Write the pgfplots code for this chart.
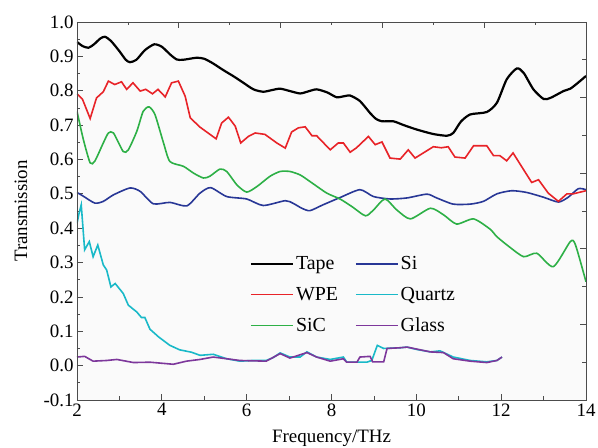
\documentclass[border=0pt]{standalone}
\usepackage{pgfplots}
\pgfplotsset{compat=1.18}
\usepackage{fontspec}
\setmainfont{Liberation Serif}
\definecolor{cTape}{RGB}{0,0,0}
\definecolor{cWPE}{RGB}{232,35,40}
\definecolor{cSiC}{RGB}{45,176,70}
\definecolor{cSi}{RGB}{40,55,150}
\definecolor{cQuartz}{RGB}{25,185,200}
\definecolor{cGlass}{RGB}{125,55,155}
\begin{document}
\begin{tikzpicture}
\begin{axis}[
  name=ax,
  scale only axis, width=509bp, height=378bp,
  xmin=2, xmax=14, ymin=-0.1, ymax=1.0,
  xtick={2,4,6,8,10,12,14}, minor x tick num=1,
  ytick={-0.1,0,0.1,0.2,0.3,0.4,0.5,0.6,0.7,0.8,0.9,1.0}, minor y tick num=1,
  yticklabels={-0.1,0.0,0.1,0.2,0.3,0.4,0.5,0.6,0.7,0.8,0.9,1.0},
  xticklabels={2,4,6,8,10,12,14},
  xtick pos=bottom, ytick pos=left,
  tick align=inside,
  major tick length=6bp, minor tick length=3.5bp,
  every tick/.style={black!70, line width=0.8bp},
  axis line style={black!70, line width=0.9bp},
  axis background/.style={fill=black!2},
  tick label style={font=\fontsize{19}{22}\selectfont},
  label style={font=\fontsize{19}{22}\selectfont},
  xlabel={Frequency/THz},
  ylabel={Transmission},
  xlabel style={at={(axis description cs:0.5,0)}, anchor=base, yshift=-42bp},
  ylabel style={at={(axis description cs:-0.110,0.5)}, anchor=center},
  legend columns=2,
  legend style={at={(axis cs:6.0,0.33)}, anchor=north west, draw=none, fill=none,
    font=\fontsize{20}{23}\selectfont, row sep=12bp,
    /tikz/every even column/.append style={column sep=15bp}},
  legend cell align=left,
  legend image code/.code={\draw[#1] (0bp,0bp) -- (42bp,0bp);},
]
\addplot[cTape, line width=2.2bp, smooth, tension=0.4] coordinates {
(2.0,0.942) (2.13,0.93) (2.27,0.925) (2.4,0.935) (2.55,0.952) (2.66,0.957) (2.8,0.945) (3.0,0.915) (3.15,0.89) (3.25,0.883) (3.4,0.89) (3.6,0.918) (3.82,0.935) (4.0,0.928) (4.2,0.905) (4.35,0.891) (4.5,0.89) (4.82,0.896) (5.0,0.893) (5.2,0.88) (5.45,0.86) (5.69,0.842) (5.9,0.825) (6.16,0.804) (6.39,0.797) (6.6,0.802) (6.79,0.806) (7.02,0.799) (7.26,0.792) (7.45,0.798) (7.65,0.804) (7.9,0.795) (8.12,0.781) (8.3,0.784) (8.44,0.786) (8.67,0.77) (8.91,0.735) (9.05,0.718) (9.19,0.711) (9.46,0.711) (9.7,0.7) (10.01,0.687) (10.4,0.674) (10.72,0.669) (10.87,0.677) (11.05,0.71) (11.27,0.731) (11.66,0.738) (11.9,0.765) (12.13,0.833) (12.37,0.865) (12.53,0.852) (12.76,0.804) (13.0,0.776) (13.16,0.779) (13.47,0.799) (13.63,0.806) (13.8,0.822) (14.0,0.843)
};
\addlegendentry{Tape}
\addplot[cSi, line width=1.6bp, smooth, tension=0.4] coordinates {
(2.0,0.504) (2.15,0.493) (2.42,0.473) (2.62,0.478) (2.86,0.497) (3.25,0.517) (3.49,0.507) (3.8,0.471) (4.19,0.475) (4.59,0.465) (4.9,0.502) (5.15,0.518) (5.53,0.492) (6.0,0.485) (6.39,0.466) (6.91,0.48) (7.1,0.472) (7.3,0.458) (7.49,0.451) (7.8,0.468) (8.2,0.489) (8.67,0.512) (8.99,0.492) (9.38,0.485) (9.78,0.488) (10.25,0.499) (10.48,0.488) (10.87,0.47) (11.27,0.47) (11.58,0.478) (11.9,0.5) (12.25,0.509) (12.6,0.504) (13.0,0.49) (13.35,0.476) (13.58,0.49) (13.82,0.515) (14.0,0.512)
};
\addlegendentry{Si}
\addplot[cWPE, line width=1.6bp] coordinates {
(2.0,0.791) (2.13,0.775) (2.31,0.719) (2.46,0.779) (2.62,0.797) (2.74,0.828) (2.89,0.818) (3.05,0.826) (3.17,0.804) (3.32,0.823) (3.49,0.799) (3.62,0.804) (3.78,0.791) (3.91,0.804) (4.08,0.782) (4.23,0.823) (4.39,0.828) (4.55,0.784) (4.67,0.721) (4.9,0.694) (5.28,0.66) (5.41,0.706) (5.57,0.723) (5.73,0.697) (5.86,0.648) (6.04,0.667) (6.2,0.677) (6.43,0.673) (6.71,0.648) (6.91,0.633) (7.06,0.68) (7.22,0.692) (7.38,0.695) (7.54,0.669) (7.65,0.669) (7.97,0.628) (8.16,0.648) (8.28,0.648) (8.44,0.621) (8.59,0.634) (8.87,0.667) (9.03,0.643) (9.19,0.651) (9.38,0.604) (9.62,0.601) (9.81,0.628) (9.97,0.604) (10.4,0.637) (10.59,0.634) (10.75,0.637) (10.91,0.607) (11.15,0.604) (11.35,0.64) (11.66,0.64) (11.82,0.611) (11.97,0.611) (12.13,0.596) (12.28,0.619) (12.53,0.57) (12.72,0.533) (12.88,0.541) (13.11,0.502) (13.35,0.478) (13.55,0.5) (13.7,0.5) (14.0,0.509)
};
\addlegendentry{WPE}
\addplot[cQuartz, line width=1.6bp] coordinates {
(2.0,0.414) (2.05,0.444) (2.1,0.468) (2.18,0.337) (2.29,0.361) (2.38,0.317) (2.49,0.351) (2.62,0.293) (2.7,0.278) (2.8,0.229) (2.9,0.239) (3.09,0.21) (3.21,0.176) (3.41,0.156) (3.52,0.14) (3.6,0.14) (3.72,0.106) (3.92,0.084) (4.19,0.059) (4.42,0.046) (4.7,0.039) (4.9,0.03) (5.21,0.033) (5.53,0.02) (5.84,0.013) (6.15,0.015) (6.46,0.015) (6.62,0.023) (6.79,0.037) (7.02,0.025) (7.26,0.025) (7.42,0.04) (7.65,0.025) (7.97,0.018) (8.28,0.025) (8.36,0.01) (8.83,0.01) (8.95,0.015) (9.08,0.059) (9.23,0.05) (9.62,0.052) (9.78,0.054) (10.01,0.047) (10.33,0.04) (10.56,0.043) (10.87,0.025) (11.27,0.015) (11.66,0.011) (11.9,0.015) (12.02,0.025)
};
\addlegendentry{Quartz}
\addplot[cSiC, line width=1.6bp, smooth, tension=0.4] coordinates {
(2.0,0.74) (2.15,0.658) (2.31,0.59) (2.42,0.595) (2.62,0.648) (2.74,0.677) (2.86,0.677) (3.09,0.623) (3.21,0.628) (3.41,0.682) (3.56,0.74) (3.7,0.753) (3.84,0.73) (4.04,0.648) (4.19,0.594) (4.51,0.58) (4.75,0.56) (4.98,0.546) (5.13,0.551) (5.37,0.572) (5.53,0.565) (5.77,0.526) (6.0,0.505) (6.24,0.521) (6.55,0.551) (6.79,0.565) (7.02,0.565) (7.26,0.555) (7.49,0.536) (7.89,0.502) (8.2,0.485) (8.48,0.463) (8.8,0.436) (8.99,0.453) (9.26,0.485) (9.54,0.453) (9.86,0.427) (10.33,0.458) (10.64,0.439) (10.95,0.412) (11.35,0.427) (11.74,0.397) (11.9,0.375) (12.2,0.345) (12.53,0.317) (12.84,0.327) (13.23,0.288) (13.63,0.361) (13.75,0.352) (14.0,0.244)
};
\addlegendentry{SiC}
\addplot[cGlass, line width=1.6bp] coordinates {
(2.0,0.025) (2.18,0.027) (2.38,0.013) (2.7,0.015) (2.94,0.018) (3.33,0.009) (3.72,0.01) (4.27,0.004) (4.58,0.013) (4.9,0.018) (5.21,0.025) (5.53,0.02) (5.84,0.015) (6.46,0.013) (6.79,0.035) (7.02,0.022) (7.42,0.038) (7.65,0.025) (7.97,0.013) (8.28,0.02) (8.36,0.01) (8.6,0.01) (8.67,0.025) (8.91,0.027) (8.97,0.011) (9.23,0.011) (9.31,0.05) (9.62,0.052) (9.78,0.054) (10.33,0.04) (10.64,0.038) (10.87,0.02) (11.27,0.013) (11.66,0.009) (11.9,0.015) (12.02,0.025)
};
\addlegendentry{Glass}
\end{axis}
\begin{axis}[
  at={(ax.south west)}, anchor=south west,
  scale only axis, width=509bp, height=378bp,
  xmin=0, xmax=5, ymin=0, ymax=10,
  xtick={0,...,5}, minor x tick num=1,
  ytick={0,2,...,10}, minor y tick num=1,
  xticklabels={}, yticklabels={},
  xtick pos=top, ytick pos=right,
  tick align=inside,
  major tick length=6bp, minor tick length=3.5bp,
  every tick/.style={black!70, line width=0.8bp},
  axis line style={black!70, line width=0.9bp},
]
\addplot[draw=none, forget plot] coordinates {(0,0) (5,10)};
\end{axis}
\pgfresetboundingbox
\path[use as bounding box] ([shift={(-77bp,-48bp)}]ax.south west) rectangle ([shift={(12bp,22bp)}]ax.north east);
\end{tikzpicture}
\end{document}
